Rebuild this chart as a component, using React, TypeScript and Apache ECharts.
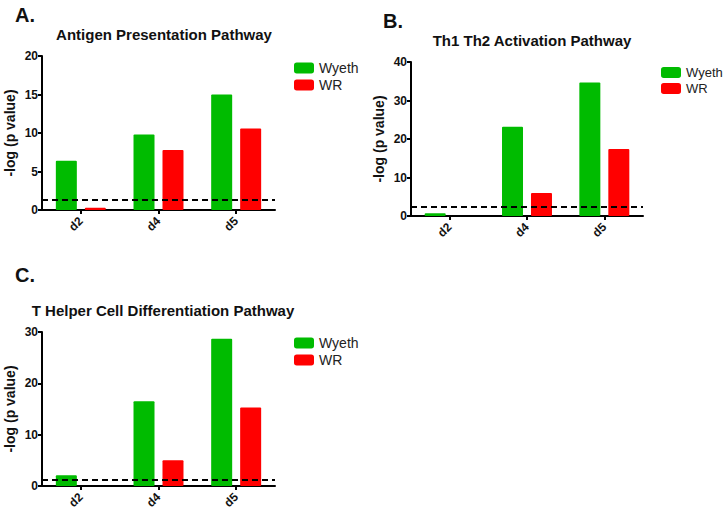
import React, { useEffect, useRef } from "react";
import * as echarts from "echarts";

const categories = ["d2", "d4", "d5"];
const seriesNames = ["Wyeth", "WR"];

const antigenWyeth = [6.4, 9.8, 15.0];
const antigenWR = [0.3, 7.8, 10.6];
const antigenThreshold = 1.3;

const th1th2Wyeth = [0.7, 23.2, 34.7];
const th1th2WR = [0, 6.0, 17.4];
const th1th2Threshold = 2.3;

const tHelperWyeth = [2.1, 16.5, 28.7];
const tHelperWR = [0, 5.0, 15.3];
const tHelperThreshold = 1.3;

const panelTitles = [
  "Antigen Presentation Pathway",
  "Th1 Th2 Activation Pathway",
  "T Helper Cell Differentiation Pathway",
];
const panelLetters = ["A.", "B.", "C."];
const yMax = [20, 40, 30];
const yInterval = [5, 10, 10];

const GREEN = "#00BB00";
const RED = "#FF0000";
const FONT = "Arial, 'Liberation Sans', sans-serif";

export default function App() {
  const ref = useRef<HTMLDivElement>(null);
  useEffect(() => {
    if (!ref.current) return;
    const chart = echarts.init(ref.current, null, { renderer: "svg" });

    const grids = [
      { left: 42, top: 56, width: 233, height: 154 },
      { left: 411, top: 62, width: 232, height: 154 },
      { left: 42, top: 332, width: 233, height: 154 },
    ];
    const dataSets = [
      [antigenWyeth, antigenWR, antigenThreshold],
      [th1th2Wyeth, th1th2WR, th1th2Threshold],
      [tHelperWyeth, tHelperWR, tHelperThreshold],
    ] as const;
    const titlePos = [
      { x: 159, y: 33 },
      { x: 527, y: 39 },
      { x: 158, y: 309 },
    ];
    const letterPos = [
      { x: 10, y: 15 },
      { x: 378, y: 21 },
      { x: 10, y: 275 },
    ];
    const legendPos = [
      { left: 289, top: 56 },
      { left: 656, top: 61 },
      { left: 289, top: 331 },
    ];

    const axisLine = { show: true, lineStyle: { color: "#000", width: 2 } };

    const option: any = {
      animation: false,
      textStyle: { fontFamily: FONT },
      title: [
        ...panelTitles.map((t, i) => ({
          text: t,
          left: titlePos[i].x,
          top: titlePos[i].y - 11,
          textAlign: "center",
          textStyle: { fontSize: 15, fontWeight: "bold", color: "#111", fontFamily: FONT },
        })),
        ...panelLetters.map((t, i) => ({
          text: t,
          left: letterPos[i].x,
          top: letterPos[i].y - 15,
          textStyle: { fontSize: 20, fontWeight: "bold", color: "#111", fontFamily: FONT },
        })),
      ],
      legend: legendPos.map((p, i) => ({
        data: seriesNames,
        left: p.left,
        top: p.top,
        orient: "vertical",
        itemWidth: 20,
        itemHeight: 11,
        itemGap: 3,
        icon: "roundRect",
        selectedMode: false,
        textStyle: { fontSize: i === 1 ? 13 : 14, color: "#222", fontFamily: FONT },
      })),
      grid: grids,
      xAxis: grids.map((_, i) => ({
        type: "category",
        gridIndex: i,
        data: categories,
        axisLine,
        axisTick: { show: true, alignWithLabel: true, length: 4, lineStyle: { color: "#000", width: 2 } },
        axisLabel: { rotate: 45, margin: 9, fontSize: 12, fontWeight: "bold", color: "#111", fontFamily: FONT },
      })),
      yAxis: grids.map((_, i) => ({
        type: "value",
        gridIndex: i,
        min: 0,
        max: yMax[i],
        interval: yInterval[i],
        name: "-log (p value)",
        nameLocation: "middle",
        nameGap: 25,
        nameTextStyle: { fontSize: 14, fontWeight: "bold", color: "#111", fontFamily: FONT },
        axisLine,
        axisTick: { show: true, length: 4, lineStyle: { color: "#000", width: 2 } },
        axisLabel: { margin: 4, fontSize: 12, fontWeight: "bold", color: "#111", fontFamily: FONT },
        splitLine: { show: false },
      })),
      series: dataSets.flatMap((d, i) => [
        {
          name: seriesNames[0],
          type: "bar",
          xAxisIndex: i,
          yAxisIndex: i,
          data: d[0],
          barWidth: 21,
          barGap: "38%",
          itemStyle: { color: GREEN, borderRadius: 1 },
          markLine: {
            silent: true,
            symbol: "none",
            label: { show: false },
            lineStyle: { color: "#000", width: 2, type: [6, 4] },
            data: [{ yAxis: d[2] }],
          },
        },
        {
          name: seriesNames[1],
          type: "bar",
          xAxisIndex: i,
          yAxisIndex: i,
          data: d[1],
          barWidth: 21,
          barGap: "38%",
          itemStyle: { color: RED, borderRadius: 1 },
        },
      ]),
    };
    chart.setOption(option);
    return () => chart.dispose();
  }, []);
  return (
    <div
      ref={ref}
      style={{ position: "absolute", left: 0, top: 0, width: 726, height: 513, background: "#fff" }}
    />
  );
}
